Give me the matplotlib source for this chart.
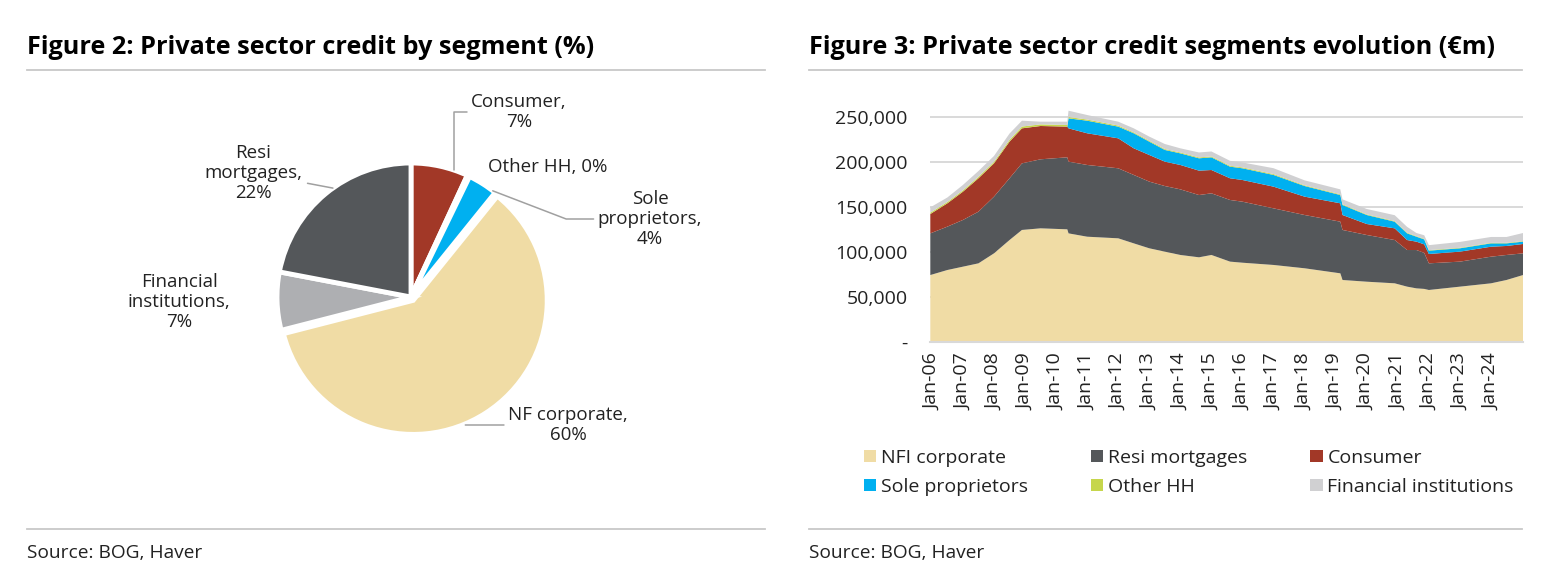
import matplotlib
matplotlib.use('Agg')
import matplotlib.pyplot as plt
from matplotlib.patches import Patch
from matplotlib.lines import Line2D
from matplotlib.ticker import FuncFormatter
import numpy as np

plt.rcParams['font.family'] = ['Open Sans', 'DejaVu Sans']

# ---- Figure 2: pie (share of private sector credit, %)
pie_labels = ['Consumer', 'Other HH', 'Sole\nproprietors', 'NF corporate',
              'Financial\ninstitutions', 'Resi\nmortgages']
pie_values = [6.9, 0.3, 3.6, 60.2, 7.0, 22.0]
pie_colors = ['#A23827', '#C6D64C', '#00B0F0', '#F0DCA5', '#AEAFB2', '#54575A']

# ---- Figure 3: stacked segments (EUR bn, converted to EUR m below)
years = [2005.95, 2006.5, 2007.0, 2007.5, 2008.0, 2008.5, 2008.9, 2009.5, 2010.36,
         2010.40, 2011.0, 2012.0, 2012.5, 2013.0, 2013.5, 2014.0, 2014.6, 2015.0,
         2015.6, 2016.0, 2017.0, 2018.0, 2019.15, 2019.22, 2020.0, 2020.9, 2021.3,
         2021.6, 2021.85, 2022.0, 2023.0, 2024.0, 2024.5, 2025.03]
nfi_corp = [74.4, 80.0, 83.7, 87.4, 98.5, 113.3, 124.5, 126.3, 125.2,
            120.7, 117.0, 115.2, 109.6, 104.1, 100.4, 96.7, 94.1, 96.7,
            89.3, 88.1, 85.6, 81.9, 76.3, 68.9, 67.0, 65.2, 61.5,
            59.6, 59.0, 57.8, 61.5, 65.2, 68.9, 74.4]
resi_mort = [46.3, 48.2, 51.9, 57.4, 63.0, 68.6, 74.0, 76.7, 80.0,
             79.7, 79.7, 77.8, 76.0, 74.1, 72.9, 72.9, 69.2, 68.5,
             68.5, 67.8, 62.9, 59.2, 57.4, 55.6, 51.9, 48.1, 40.7,
             42.6, 40.0, 29.6, 27.8, 29.6, 27.8, 24.1]
consumer = [21.5, 25.9, 31.4, 37.1, 37.0, 40.7, 38.9, 37.0, 34.1,
            37.0, 35.2, 33.3, 29.6, 29.6, 27.1, 27.1, 27.1, 25.9,
            24.1, 24.1, 24.1, 20.4, 20.4, 16.6, 12.2, 13.0, 11.1,
            9.3, 9.5, 10.4, 11.1, 11.1, 10.0, 10.4]
sole_prop = [0, 0, 0, 0, 0, 0, 0, 0, 0,
             11.1, 14.0, 13.0, 16.7, 14.8, 13.0, 12.9, 13.7, 14.1,
             12.9, 13.0, 13.0, 11.8, 9.2, 11.1, 10.0, 7.4, 7.4,
             5.5, 5.5, 3.7, 3.7, 3.7, 2.9, 2.6]
other_hh = [1.5, 1.5, 1.5, 1.6, 1.7, 2.0, 2.0, 1.8, 1.8,
            1.5, 1.3, 1.2, 1.0, 1.0, 1.0, 1.0, 1.0, 1.0,
            1.0, 1.0, 1.0, 0.8, 0.8, 0.8, 0.7, 0.7, 0.7,
            0.6, 0.6, 0.6, 0.6, 0.6, 0.6, 0.6]
fin_inst = [5.9, 5.0, 6.0, 6.5, 6.5, 7.0, 6.5, 3.0, 3.7,
            7.0, 5.0, 4.3, 4.5, 4.6, 5.6, 4.6, 5.5, 5.5,
            5.5, 5.5, 6.5, 5.5, 5.5, 5.5, 6.0, 6.5, 6.5,
            3.5, 4.0, 5.5, 6.5, 6.5, 6.5, 9.0]
area_names = ['NFI corporate', 'Resi mortgages', 'Consumer',
              'Sole proprietors', 'Other HH', 'Financial institutions']
area_colors = ['#F0DCA5', '#54575A', '#A23827', '#00B0F0', '#C6D64C', '#D0D0D2']
tick_years = list(range(2006, 2025))

W, H = 1548, 575
fig = plt.figure(figsize=(W / 100, H / 100), dpi=100)
rule_c = '#C8C8C8'
txt_c = '#222222'


def fx(p):
    return p / W


def fy(p):
    return 1 - p / H


# titles, rules, sources
fig.text(fx(27), fy(47), 'Figure 2: Private sector credit by segment (%)',
         fontsize=18.2, fontweight='bold', va='center', color='black')
fig.text(fx(809), fy(47), 'Figure 3: Private sector credit segments evolution (€m)',
         fontsize=18.2, fontweight='bold', va='center', color='black')
for x0, x1 in [(27, 765), (809, 1522)]:
    for yy in (70, 529):
        fig.add_artist(Line2D([fx(x0), fx(x1)], [fy(yy), fy(yy)], color=rule_c, lw=1.3))
    fig.text(fx(x0), fy(553), 'Source: BOG, Haver', fontsize=13.8, va='center', color=txt_c)

# ---- pie
cx, cy, rad = 411, 297, 134
ax1 = fig.add_axes([fx(28), fy(520), (765 - 28) / W, (520 - 75) / H])
explode = [0, 0, 0, 0.03, 0, 0]
wedges, _ = ax1.pie(pie_values, colors=pie_colors, startangle=90, counterclock=False,
                    explode=explode, wedgeprops=dict(edgecolor='white', linewidth=3.5))
ax1.set_xlim((28 - cx) / rad, (765 - cx) / rad)
ax1.set_ylim((cy - 520) / rad, (cy - 75) / rad)
ax1.set_aspect('auto')


def pd_(xp, yp):
    return ((xp - cx) / rad, (cy - yp) / rad)


def anchor(w, frac=0.5, r=1.0):
    # frac measured from the wedge's clockwise start (theta2)
    th = np.deg2rad(w.theta2 - frac * (w.theta2 - w.theta1))
    return (r * np.cos(th), r * np.sin(th))


label_pos = [(519, 112), (548, 167), (650, 219), (568, 425), (179, 302), (253, 173)]
for i, (w, name, v) in enumerate(zip(wedges, pie_labels, pie_values)):
    sep = '\n' if i in (0, 2, 3, 4, 5) else ' '
    s = f'{name},{sep}{v:.0f}%'
    kw = {}
    xy = anchor(w)
    if i == 0:
        xy = anchor(w, 0.76)
        kw['arrowprops'] = dict(arrowstyle='-', color='#A0A0A0', lw=1.1,
                                connectionstyle='angle,angleA=0,angleB=90,rad=0',
                                shrinkA=1, shrinkB=0)
    elif i == 2:
        xy = anchor(w, 0.9)
        kw['arrowprops'] = dict(arrowstyle='-', color='#A0A0A0', lw=1.1,
                                connectionstyle='angle,angleA=0,angleB=-21,rad=0',
                                shrinkA=1, shrinkB=0)
    elif i == 3:
        ty = pd_(*label_pos[i])[1]
        xy = (np.sqrt(1.03 ** 2 - ty ** 2) + 0.02, ty)
        kw['arrowprops'] = dict(arrowstyle='-', color='#A0A0A0', lw=1.1,
                                shrinkA=1, shrinkB=0)
    elif i == 5:
        xy = anchor(w, 0.55)
        kw['arrowprops'] = dict(arrowstyle='-', color='#A0A0A0', lw=1.1,
                                shrinkA=2, shrinkB=0)
    ax1.annotate(s, xy=xy, xytext=pd_(*label_pos[i]),
                 ha='center', va='center', fontsize=13.5, color=txt_c,
                 linespacing=1.15, **kw)

# ---- stacked area
ax2 = fig.add_axes([fx(930), fy(342), (1523 - 930) / W, (342 - 99) / H])
stack = [np.array(s) * 1000 for s in (nfi_corp, resi_mort, consumer, sole_prop, other_hh, fin_inst)]
ax2.stackplot(years, *stack, colors=area_colors, linewidth=0)
ax2.set_xlim(2005.94, 2025.03)
ax2.set_ylim(0, 270000)
ax2.set_yticks(np.arange(0, 250001, 50000))
ax2.yaxis.set_major_formatter(FuncFormatter(lambda v, p: '-' if v == 0 else f'{v:,.0f}'))
ax2.set_xticks(tick_years)
ax2.set_xticklabels([f'Jan-{y % 100:02d}' for y in tick_years], rotation=90)
ax2.tick_params(axis='both', length=0, labelsize=14, colors=txt_c)
ax2.tick_params(axis='y', pad=16)
ax2.tick_params(axis='x', pad=8)
ax2.yaxis.grid(True, color='#D9D9D9', lw=1.4)
ax2.set_axisbelow(True)
for sp in ('top', 'right', 'left'):
    ax2.spines[sp].set_visible(False)
ax2.spines['bottom'].set_color('#D9D9D9')
ax2.spines['bottom'].set_linewidth(1.5)

handles = [Patch(facecolor=c, edgecolor='none') for c in area_colors]
order = [0, 3, 1, 4, 2, 5]
fig.legend([handles[i] for i in order], [area_names[i] for i in order], ncol=3,
           loc='upper left', bbox_to_anchor=(fx(864), fy(449)), frameon=False,
           fontsize=14, handlelength=0.62, handleheight=0.62, handletextpad=0.25,
           columnspacing=3.25, labelspacing=0.56, borderaxespad=0, borderpad=0,
           labelcolor=txt_c)

fig.savefig('out.png', dpi=100)
